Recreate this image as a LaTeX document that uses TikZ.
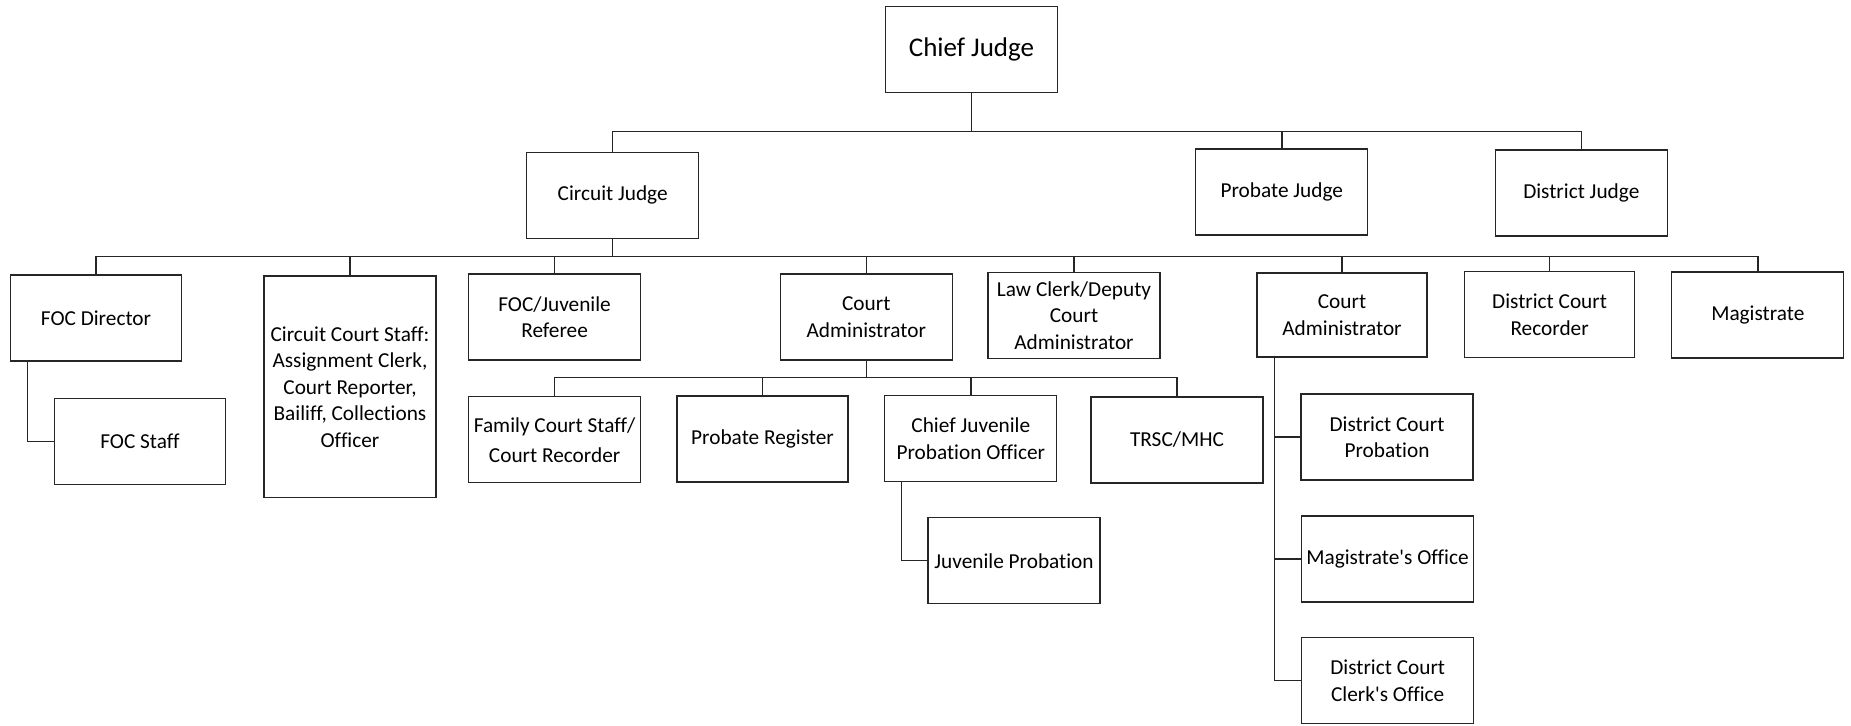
\documentclass[tikz,border=0pt]{standalone}
\usepackage{fontspec}
\setmainfont[Ligatures={NoCommon}]{Carlito}
\begin{document}
\begin{tikzpicture}[x=1pt,y=-1pt,
  orgbox/.style={draw=black!85, line width=1.2pt, minimum width=172pt, minimum height=86pt,
    inner sep=0pt, align=center, font=\fontsize{21.3}{26.5}\selectfont},
  link/.style={draw=black!85, line width=1.4pt}]
\useasboundingbox (0,0) rectangle (1851,725);
% level 1
\node[orgbox, font=\fontsize{27}{32}\selectfont] (chief) at (971.5,49.5) {Chief Judge};
% level 2
\node[orgbox] (cj) at (612.7,195.3) {Circuit Judge};
\node[orgbox] (pj) at (1281.8,192) {Probate Judge};
\node[orgbox] (dj) at (1581.3,193) {District Judge};
% level 3
\node[orgbox, minimum width=171pt] (focd) at (96,318) {FOC Director};
\node[orgbox, minimum height=221.7pt] (ccs) at (350,386.9) {Circuit Court Staff:\\Assignment Clerk,\\Court Reporter,\\Bailiff, Collections\\Officer};
\node[orgbox] (focr) at (554.6,317) {FOC/Juvenile\\Referee};
\node[orgbox] (ca1) at (866.3,317) {Court\\Administrator};
\node[orgbox] (lc) at (1074,315.5) {Law Clerk/Deputy\\Court\\Administrator};
\node[orgbox, minimum width=170pt, minimum height=84pt] (ca2) at (1342,315) {Court\\Administrator};
\node[orgbox, minimum width=170pt] (dcr) at (1549.6,314.5) {District Court\\Recorder};
\node[orgbox] (mag) at (1757.8,315) {Magistrate};
% level 4
\node[orgbox, minimum width=171pt] (focs) at (140,441.3) {FOC Staff};
\node[orgbox] (fcs) at (554.6,439.7) {Family Court Staff/\\[3.5pt]Court Recorder};
\node[orgbox, minimum width=171pt] (pr) at (762.5,439) {Probate Register};
\node[orgbox] (cjpo) at (970.8,438.5) {Chief Juvenile\\Probation Officer};
\node[orgbox] (trsc) at (1177,440) {TRSC/MHC};
\node[orgbox] (dcp) at (1387,437) {District Court\\Probation};
% level 5
\node[orgbox] (jp) at (1014,560.7) {Juvenile Probation};
\node[orgbox] (mo) at (1387.5,559) {Magistrate\textquotesingle s Office};
\node[orgbox] (dcc) at (1387.7,680.5) {District Court\\Clerk\textquotesingle s Office};
% bus coordinates
\coordinate (b2) at (0,131.7);
\coordinate (b3) at (0,256.5);
\coordinate (b4) at (0,377.7);
% chief -> judges
\draw[link] (chief.south) -- (chief.south |- b2);
\draw[link] (cj.north) -- (cj.north |- b2) -- (dj.north |- b2) -- (dj.north);
\draw[link] (pj.north) -- (pj.north |- b2);
% circuit judge -> level 3
\draw[link] (cj.south) -- (cj.south |- b3);
\draw[link] (focd.north) -- (focd.north |- b3) -- (mag.north |- b3) -- (mag.north);
\foreach \n in {ccs,focr,ca1,lc,ca2,dcr}{
  \draw[link] (\n.north) -- (\n.north |- b3);
}
% court administrator 1 -> level 4
\draw[link] (ca1.south) -- (ca1.south |- b4);
\draw[link] (fcs.north) -- (fcs.north |- b4) -- (trsc.north |- b4) -- (trsc.north);
\draw[link] (pr.north) -- (pr.north |- b4);
\draw[link] (cjpo.north) -- (cjpo.north |- b4);
% FOC director -> FOC staff
\coordinate (fa) at ([xshift=17.8pt]focd.south west);
\draw[link] (fa) |- (focs.west);
% chief juvenile -> juvenile probation
\coordinate (ja) at ([xshift=17.2pt]cjpo.south west);
\draw[link] (ja) |- (jp.west);
% court administrator 2 -> district offices
\coordinate (ta) at ([xshift=18pt]ca2.south west);
\draw[link] (ta) |- (dcc.west);
\draw[link] (dcp.west) -- (dcp.west -| ta);
\draw[link] (mo.west) -- (mo.west -| ta);
\end{tikzpicture}
\end{document}
